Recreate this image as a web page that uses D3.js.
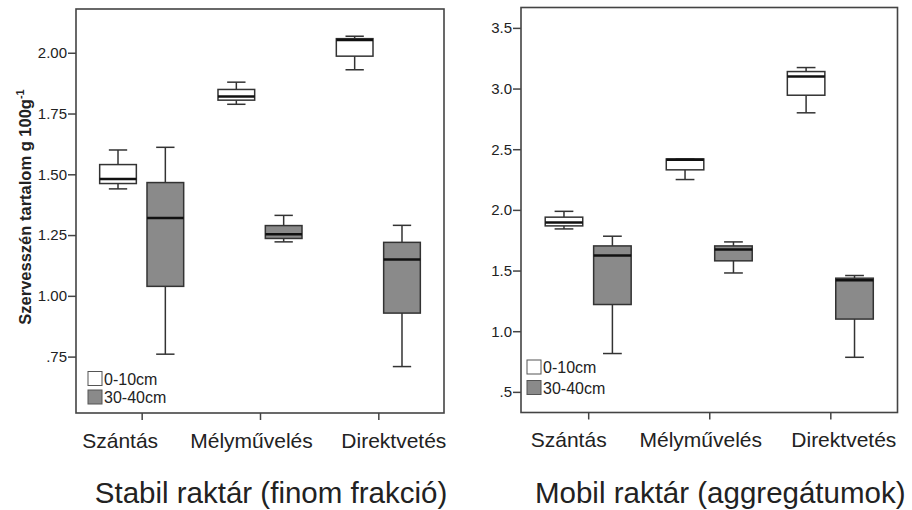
<!doctype html><html><head>
<style>
  body { margin: 0; background: #fff; }
  text { font-family: "Liberation Sans", Arial, sans-serif; fill: #222; }
</style>
</head><body><script src='https://cdn.jsdelivr.net/npm/d3@7'></script>

<script>
// Data: [whisker low, Q1, median, Q3, whisker high]
const categories = ["Szántás", "Mélyművelés", "Direktvetés"];
const depths     = ["0-10cm", "30-40cm"];
const depthFill  = ["#ffffff", "#8a8a8a"];

const stabil0  = [[1.44, 1.462, 1.481, 1.54, 1.60], [1.788, 1.805, 1.82, 1.849, 1.879], [1.93, 1.986, 2.052, 2.058, 2.068]];
const stabil30 = [[0.76, 1.039, 1.32, 1.466, 1.611], [1.222, 1.236, 1.253, 1.289, 1.331], [0.709, 0.929, 1.149, 1.22, 1.29]];
const mobil0   = [[1.843, 1.868, 1.896, 1.94, 1.988], [2.25, 2.33, 2.414, 2.42, 2.42], [2.80, 2.945, 3.10, 3.14, 3.173]];
const mobil30  = [[0.816, 1.22, 1.624, 1.703, 1.783], [1.48, 1.58, 1.674, 1.703, 1.736], [0.785, 1.10, 1.42, 1.437, 1.459]];

const stabilTicks = [0.75, 1.00, 1.25, 1.50, 1.75, 2.00];
const mobilTicks  = [0.5, 1.0, 1.5, 2.0, 2.5, 3.0, 3.5];

const W = 912, H = 510;
const svg = d3.select("body").append("svg").attr("width", W).attr("height", H);

function fmt(digits) {
  return v => d3.format("." + digits + "f")(v).replace(/^0\./, ".");
}

function drawPanel(o) {
  const g = svg.append("g");
  const x = d3.scalePoint().domain(categories).range([o.left, o.right]).padding(0.555);
  const y = d3.scaleLinear().domain(o.domain).range([o.bottom, o.top]);
  const step = x.step();
  const off = step * 0.2, bw = step * 0.31;

  // frame
  g.append("rect")
   .attr("x", o.left).attr("y", o.top)
   .attr("width", o.right - o.left).attr("height", o.bottom - o.top)
   .attr("fill", "none").attr("stroke", "#444").attr("stroke-width", 1.6);

  // y axis
  const ya = g.append("g").attr("transform", `translate(${o.left},0)`)
    .call(d3.axisLeft(y).tickValues(o.ticks).tickFormat(fmt(o.digits)).tickSizeOuter(0).tickSize(8).tickPadding(1));
  ya.select(".domain").remove();
  ya.selectAll("line").attr("stroke", "#444").attr("stroke-width", 1.5);
  ya.selectAll("text").attr("font-size", 15).attr("fill", "#222")
    .style("font-family", "'Liberation Sans', Arial, sans-serif");

  // x axis (labels sit a little off their ticks, as in the original)
  const xa = g.append("g").attr("transform", `translate(0,${o.bottom})`)
    .call(d3.axisBottom(x).tickSize(7).tickPadding(13));
  xa.select(".domain").remove();
  xa.selectAll("line").attr("stroke", "#444").attr("stroke-width", 1.5);
  xa.selectAll("text").attr("font-size", 21).attr("fill", "#222")
    .attr("dx", (d, i) => o.labelShift[i])
    .style("font-family", "'Liberation Sans', Arial, sans-serif");

  // boxes
  o.series.forEach((ser, si) => {
    ser.forEach((s, ci) => {
      const cx = x(categories[ci]) + (si === 0 ? -off : off);
      const bg = g.append("g");
      bg.append("line").attr("x1", cx).attr("x2", cx).attr("y1", y(s[0])).attr("y2", y(s[1]))
        .attr("stroke", "#333").attr("stroke-width", 1.5);
      bg.append("line").attr("x1", cx).attr("x2", cx).attr("y1", y(s[3])).attr("y2", y(s[4]))
        .attr("stroke", "#333").attr("stroke-width", 1.5);
      [s[0], s[4]].forEach(v => {
        bg.append("line").attr("x1", cx - bw / 4).attr("x2", cx + bw / 4).attr("y1", y(v)).attr("y2", y(v))
          .attr("stroke", "#333").attr("stroke-width", 1.5);
      });
      bg.append("rect").attr("x", cx - bw / 2).attr("width", bw)
        .attr("y", y(s[3])).attr("height", y(s[1]) - y(s[3]))
        .attr("fill", depthFill[si]).attr("stroke", "#333").attr("stroke-width", 1.5);
      bg.append("line").attr("x1", cx - bw / 2).attr("x2", cx + bw / 2).attr("y1", y(s[2])).attr("y2", y(s[2]))
        .attr("stroke", "#111").attr("stroke-width", 2.5);
    });
  });

  // legend
  depths.forEach((d, i) => {
    const ly = o.legendY + i * o.legendStep;
    g.append("rect").attr("x", o.left + o.legendX).attr("y", ly).attr("width", 14).attr("height", 14)
      .attr("fill", depthFill[i]).attr("stroke", "#555").attr("stroke-width", 1);
    g.append("text").attr("x", o.left + o.legendX + 16).attr("y", ly + 13).attr("font-size", 16).text(d);
  });

  // title
  g.append("text").attr("x", (o.left + o.right) / 2 + 11).attr("y", 503)
    .attr("text-anchor", "middle").attr("font-size", 29.5).text(o.title);
}

drawPanel({
  left: 76, right: 444, top: 9, bottom: 413,
  domain: [0.518, 2.18], ticks: stabilTicks, digits: 2,
  series: [stabil0, stabil30], labelShift: [-22, -9, 15],
  legendX: 12, legendY: 371.5, legendStep: 18.5,
  title: "Stabil raktár (finom frakció)"
});

drawPanel({
  left: 521, right: 897.5, top: 7.5, bottom: 412.5,
  domain: [0.33, 3.668], ticks: mobilTicks, digits: 1,
  series: [mobil0, mobil30], labelShift: [-20, -9, 13],
  legendX: 6, legendY: 360, legendStep: 20.5,
  title: "Mobil raktár (aggregátumok)"
});

// y axis label (left panel only)
const yl = svg.append("text").attr("transform", "translate(31,207) rotate(-90)")
  .attr("text-anchor", "middle").attr("font-size", 16.5).attr("font-weight", "bold");
yl.append("tspan").text("Szervesszén tartalom g 100g");
yl.append("tspan").attr("dy", -7).attr("font-size", 11).text("-1");

</script></body></html>
